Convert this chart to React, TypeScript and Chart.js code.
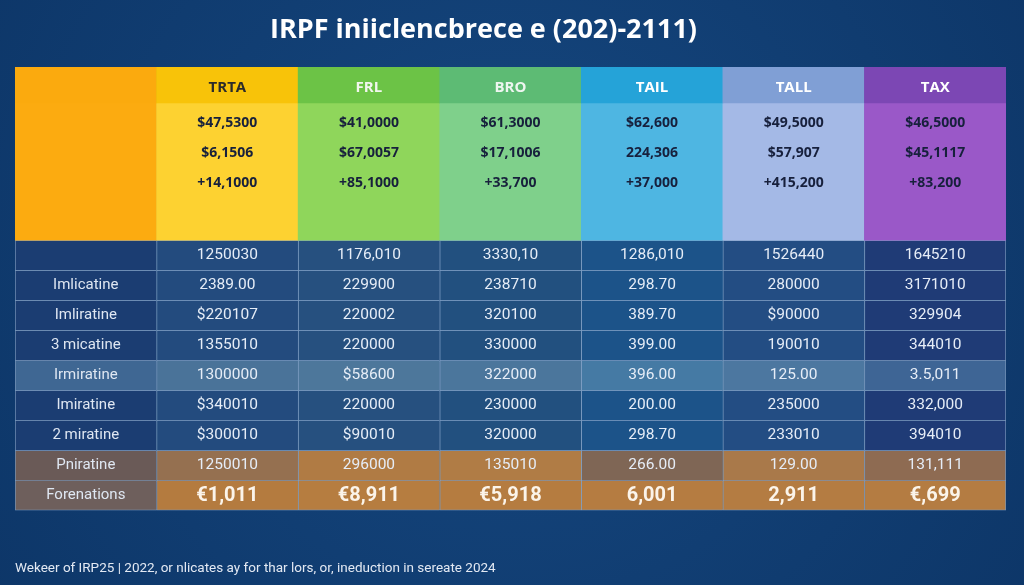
import React, { useEffect, useRef } from "react";
import { Chart, registerables } from "chart.js";

Chart.register(...registerables);

// ---------- text content ----------
const TITLE = "IRPF iniiclencbrece e (202)-2111)";
const FOOTNOTE =
  "Wekeer of IRP25 | 2022, or nlicates ay for thar lors, or, ineduction in sereate 2024";

// ---------- table data ----------
const columnHeaders = ["", "TRTA", "FRL", "BRO", "TAIL", "TALL", "TAX"];
const headerValues1 = ["$47,5300", "$41,0000", "$61,3000", "$62,600", "$49,5000", "$46,5000"];
const headerValues2 = ["$6,1506", "$67,0057", "$17,1006", "224,306", "$57,907", "$45,1117"];
const headerValues3 = ["+14,1000", "+85,1000", "+33,700", "+37,000", "+415,200", "+83,200"];

const rowLabels = [
  "",
  "Imlicatine",
  "Imliratine",
  "3 micatine",
  "Irmiratine",
  "Imiratine",
  "2 miratine",
  "Pniratine",
  "Forenations",
];
const row1 = ["1250030", "1176,010", "3330,10", "1286,010", "1526440", "1645210"];
const row2 = ["2389.00", "229900", "238710", "298.70", "280000", "3171010"];
const row3 = ["$220107", "220002", "320100", "389.70", "$90000", "329904"];
const row4 = ["1355010", "220000", "330000", "399.00", "190010", "344010"];
const row5 = ["1300000", "$58600", "322000", "396.00", "125.00", "3.5,011"];
const row6 = ["$340010", "220000", "230000", "200.00", "235000", "332,000"];
const row7 = ["$300010", "$90010", "320000", "298.70", "233010", "394010"];
const row8 = ["1250010", "296000", "135010", "266.00", "129.00", "131,111"];
const totals = ["€1,011", "€8,911", "€5,918", "6,001", "2,911", "€,699"];
const bodyRows = [row1, row2, row3, row4, row5, row6, row7, row8, totals];

// ---------- structure (in row units) ----------
const HEADER_BAND = 1.2;
const HEADER_TOTAL = 5.77;
const TOTAL_UNITS = HEADER_TOTAL + bodyRows.length;

// ---------- colours ----------
const headerBandColors = ["#fbaa0e", "#f8c309", "#6cc346", "#5dbb74", "#25a3d8", "#809fd5", "#7c47b4"];
const headerBodyColors = ["#fcab10", "#fdd231", "#8fd65b", "#7fd08b", "#4eb6e2", "#a4b9e6", "#9a58c8"];
const headerTextColors = ["#ffffff", "#2b2b2b", "#f2f6ee", "#eef6f0", "#ffffff", "#ffffff", "#ffffff"];
const baseRowColors = ["#1b3d72", "#234b7e", "#26507f", "#22507f", "#1c5389", "#234d83", "#1f3b76"];
const lightRowColors = ["#3f6793", "#4a7399", "#4d779b", "#4b769c", "#457aa4", "#4c77a0", "#3e6595"];
const warmRowColors = ["#6a5a57", "#957050", "#b07b44", "#b07c45", "#7f6655", "#a9794a", "#8e6b52"];
const totalRowColors = ["#6e5f5c", "#b47b3f", "#b67d40", "#b57c40", "#b57c41", "#b47c42", "#b47c42"];
const rowPalette = [
  baseRowColors,
  baseRowColors,
  baseRowColors,
  baseRowColors,
  lightRowColors,
  baseRowColors,
  baseRowColors,
  warmRowColors,
  totalRowColors,
];
const GRID = "rgba(185,208,236,0.62)";

const tablePlugin = {
  id: "tableText",
  beforeDraw(chart: any) {
    const { ctx, width, height } = chart;
    ctx.save();
    const g = ctx.createRadialGradient(width / 2, height * 0.45, 50, width / 2, height * 0.45, 700);
    g.addColorStop(0, "#15467e");
    g.addColorStop(1, "#0c3465");
    ctx.fillStyle = g;
    ctx.fillRect(0, 0, width, height);
    ctx.restore();
  },
  afterDatasetsDraw(chart: any) {
    const { ctx, chartArea } = chart;
    const x = chart.scales.x;
    const y = chart.scales.y;
    ctx.save();
    ctx.textAlign = "center";
    ctx.textBaseline = "middle";
    // title (sits slightly left of the table centre, as in the reference)
    ctx.font = "700 27px 'Open Sans'";
    ctx.fillStyle = "#ffffff";
    ctx.fillText(TITLE, (chartArea.left + chartArea.right) / 2 - 27, chartArea.top / 2 - 3);
    // header labels
    ctx.font = "700 15px 'Open Sans'";
    columnHeaders.forEach((h, c) => {
      if (!h) return;
      ctx.fillStyle = headerTextColors[c];
      ctx.fillText(h, x.getPixelForValue(c), y.getPixelForValue(HEADER_BAND / 2 + 0.08));
    });
    // header values
    ctx.font = "700 14px 'Open Sans'";
    ctx.fillStyle = "#17203c";
    [headerValues1, headerValues2, headerValues3].forEach((vals, r) => {
      vals.forEach((v, i) => {
        ctx.fillText(v, x.getPixelForValue(i + 1), y.getPixelForValue(HEADER_BAND + 0.66 + r));
      });
    });
    // body
    bodyRows.forEach((vals, r) => {
      const cy = y.getPixelForValue(HEADER_TOTAL + r + 0.5);
      const isTotal = r === bodyRows.length - 1;
      ctx.font = "400 15px Roboto";
      ctx.fillStyle = "#dfe7f2";
      if (rowLabels[r]) ctx.fillText(rowLabels[r], x.getPixelForValue(0), cy);
      ctx.font = isTotal ? "700 20px Roboto" : "400 15.5px Roboto";
      ctx.fillStyle = isTotal ? "#fbf4ea" : "#e6edf7";
      vals.forEach((v, i) => {
        ctx.fillText(v, x.getPixelForValue(i + 1), cy + (isTotal ? 1 : 0));
      });
    });
    ctx.restore();
  },
};

export default function App() {
  const ref = useRef<HTMLCanvasElement | null>(null);
  useEffect(() => {
    if (!ref.current) return;
    const datasets: any[] = [
      {
        data: columnHeaders.map(() => [0, HEADER_BAND]),
        backgroundColor: headerBandColors,
        borderWidth: 0,
      },
      {
        data: columnHeaders.map(() => [HEADER_BAND, HEADER_TOTAL]),
        backgroundColor: headerBodyColors,
        borderWidth: 0,
      },
    ];
    bodyRows.forEach((_, r) => {
      datasets.push({
        data: columnHeaders.map(() => [HEADER_TOTAL + r, HEADER_TOTAL + r + 1]),
        backgroundColor: rowPalette[r],
        borderColor: GRID,
        borderWidth: (c: any) => ({
          top: 1,
          left: 1,
          right: c.dataIndex === columnHeaders.length - 1 ? 1 : 0,
          bottom: r === bodyRows.length - 1 ? 1 : 0,
        }),
      });
    });
    const chart = new Chart(ref.current, {
      type: "bar",
      data: { labels: columnHeaders, datasets },
      options: {
        animation: false,
        responsive: false,
        maintainAspectRatio: false,
        events: [],
        datasets: {
          bar: {
            barPercentage: 1,
            categoryPercentage: 1,
            borderSkipped: false,
          },
        } as any,
        layout: { padding: { left: 15, right: 18, top: 67, bottom: 3 } },
        scales: {
          x: { display: false, stacked: true },
          y: { display: false, stacked: false, reverse: true, min: 0, max: TOTAL_UNITS },
        },
        plugins: {
          legend: { display: false },
          tooltip: { enabled: false },
          title: { display: false },
          subtitle: {
            display: true,
            text: FOOTNOTE,
            position: "bottom",
            align: "start",
            color: "#e3e9f3",
            font: { family: "Roboto", size: 13.5 },
            padding: { top: 50, bottom: 5.4 },
          },
        },
      },
      plugins: [tablePlugin],
    });
    return () => chart.destroy();
  }, []);
  return (
    <div style={{ position: "absolute", left: 0, top: 0, width: 1024, height: 585 }}>
      <canvas ref={ref} width={1024} height={585} style={{ display: "block" }} />
    </div>
  );
}
